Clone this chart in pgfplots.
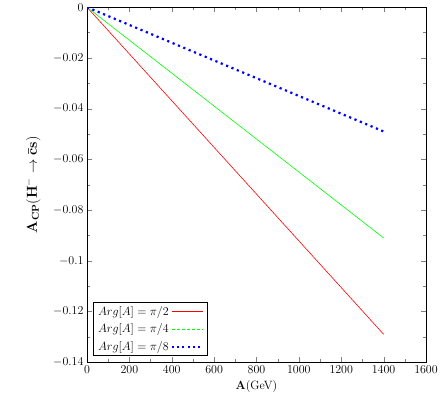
\documentclass[border=0pt]{standalone}
\usepackage{amsmath}
\usepackage{pgfplots}
\pgfplotsset{compat=1.18}

\begin{document}
\begin{tikzpicture}
  \begin{axis}[
      scale only axis,
      width=339pt, height=355pt,
      xmin=0, xmax=1600,
      ymin=-0.14, ymax=0,
      xtick={0,200,...,1600},
      ytick={-0.14,-0.12,...,0},
      minor x tick num=1,
      minor y tick num=1,
      scaled y ticks=false,
      yticklabel style={/pgf/number format/fixed, /pgf/number format/precision=2},
      xticklabel style={/pgf/number format/fixed, /pgf/number format/1000 sep={}},
      tick label style={font=\large},
      label style={font=\large},
      tick align=inside,
      major tick length=5pt,
      minor tick length=3pt,
      xlabel={$\mathbf{A}$(GeV)},
      ylabel={$\mathbf{A_{CP}(H^{-}\to\bar{c}s)}$},
      ylabel style={font=\Large, yshift=6pt},
      legend plot pos=right,
      legend cell align=right,
      legend style={at={(0.017,0.017)}, anchor=south west, draw=black,
        line width=0.8pt, row sep=3pt, font=\large, inner ysep=2pt},
    ]
    \addplot[red, line width=0.6pt, forget plot] coordinates {(0,0) (700,-0.0645) (1400,-0.129)};
    \addplot[green, line width=0.6pt, forget plot] coordinates {(0,0) (700,-0.0455) (1400,-0.091)};
    \addplot[blue, line width=2.2pt, dash pattern=on 2.2pt off 3.6pt, forget plot] coordinates {(0,0) (700,-0.0245) (1400,-0.049)};
    \addlegendimage{legend image code/.code={\draw[color=red, line width=0.6pt] (0.15cm,0cm) -- (1.25cm,0cm);}}
    \addlegendentry{$Arg[A]=\pi/2$}
    \addlegendimage{legend image code/.code={\draw[color=green, line width=0.6pt, dash pattern=on 3pt off 2pt] (0.15cm,0cm) -- (1.25cm,0cm);}}
    \addlegendentry{$Arg[A]=\pi/4$}
    \addlegendimage{legend image code/.code={\draw[color=blue, line width=2pt, dash pattern=on 2pt off 3.3pt] (0.15cm,0cm) -- (1.25cm,0cm);}}
    \addlegendentry{$Arg[A]=\pi/8$}
  \end{axis}
  \path ([shift={(-87pt,-37pt)}]current axis.south west) rectangle ([shift={(17pt,5pt)}]current axis.north east);
\end{tikzpicture}
\end{document}
